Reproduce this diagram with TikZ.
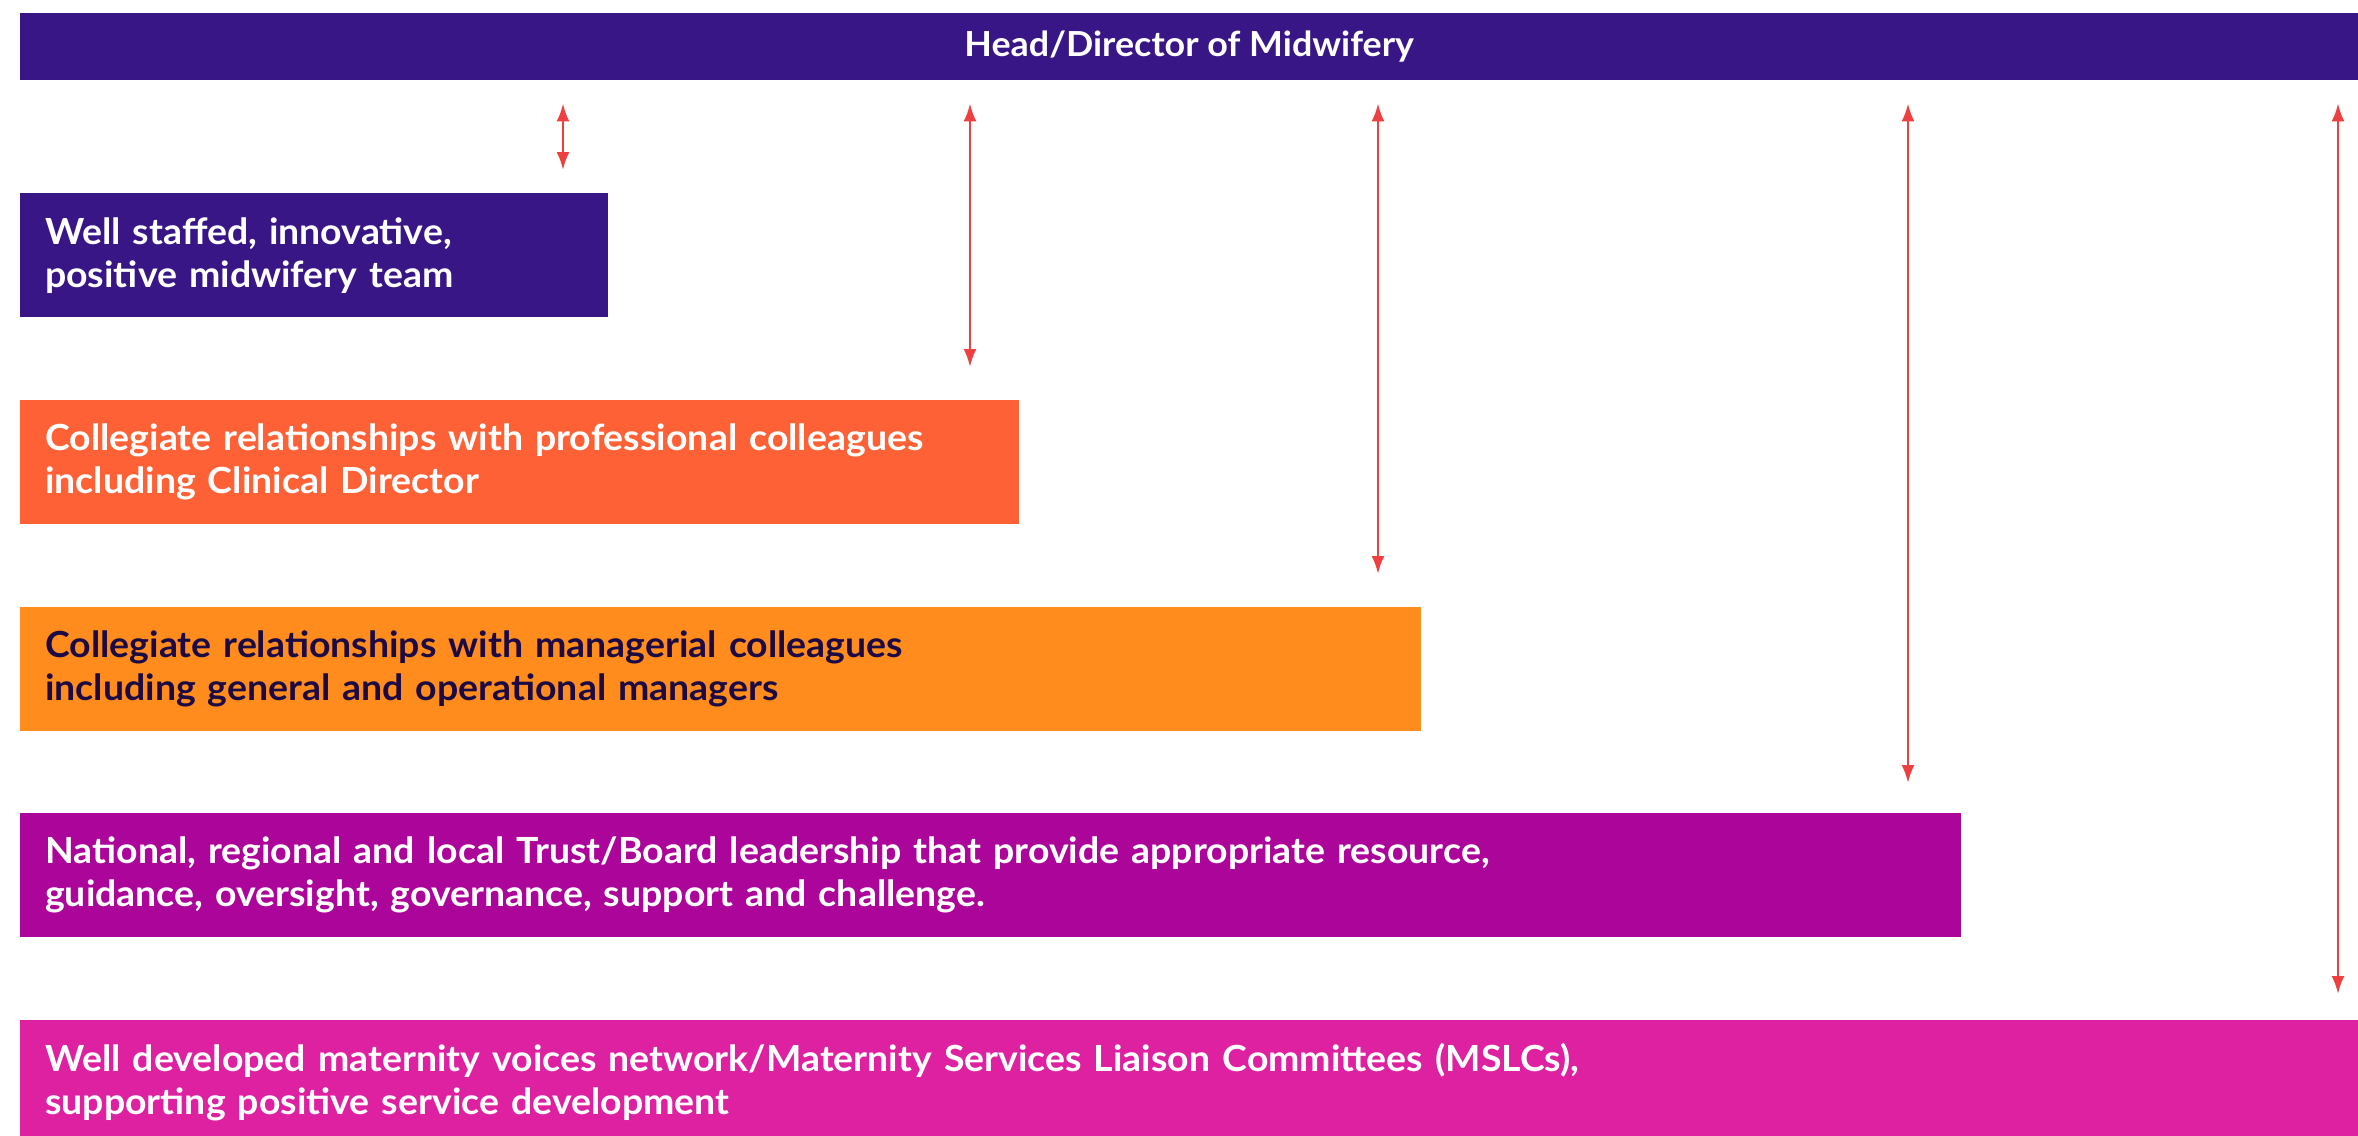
\documentclass[tikz,border=0pt]{standalone}
\usepackage{fontspec}
\setmainfont{Lato}[FakeStretch=1.04]
\usetikzlibrary{arrows.meta,positioning}
\definecolor{midindigo}{HTML}{381685}
\definecolor{midcoral}{HTML}{FF6136}
\definecolor{midamber}{HTML}{FF8C1C}
\definecolor{midplum}{HTML}{AC0599}
\definecolor{midpink}{HTML}{DE21A0}
\definecolor{midnight}{HTML}{1C0A45}
\definecolor{linkred}{HTML}{EE4040}
\tikzset{
  box/.style={anchor=north west,minimum height=124pt,inner xsep=25pt,inner ysep=0pt,
    align=left,text=white,font=\bfseries\fontsize{36}{43}\selectfont},
  link/.style={draw=linkred,line width=2.5pt,
    {Latex[length=18pt,width=13pt]}-{Latex[length=18pt,width=13pt]},shorten <=23pt}
}
\begin{document}
\begin{tikzpicture}[x=1pt,y=-1pt]
  \useasboundingbox[fill=white] (0,0) rectangle (2358,1135);
  \clip (0,0) rectangle (2358,1135);
  \node[anchor=north west,fill=midindigo,minimum width=2338pt,minimum height=67pt,inner sep=0pt,
    text=white,font=\bfseries\fontsize{34.5}{40}\selectfont] (head) at (20,13) {Head/Director of Midwifery};
  \node[box,fill=midindigo,text width=538pt] (wst) at (20,193)
    {Well staffed, innovative,\\positive midwifery team};
  \node[box,fill=midcoral,text width=949pt] (pro) at (20,400)
    {Collegiate relationships with professional colleagues\\including Clinical Director};
  \node[box,fill=midamber,text=midnight,text width=1351pt] (man) at (20,607)
    {Collegiate relationships with managerial colleagues\\including general and operational managers};
  \node[box,fill=midplum,text width=1891pt] (lead) at (20,813)
    {National, regional and local Trust/Board leadership that provide appropriate resource,\\guidance, oversight, governance, support and challenge.};
  \node[box,fill=midpink,text width=2308pt] (mvp) at (20,1020)
    {Well developed maternity voices network/Maternity Services Liaison Committees (MSLCs),\\supporting positive service development};
  % arrows: box / x / gap above the box
  \foreach \b/\x/\g in {wst/563/23,pro/970/33,man/1378/33,lead/1908/30,mvp/2338/26}{
    \coordinate (c\b) at (\x,0);
    \draw[link,shorten >=\g pt] (head.south -| c\b) -- (\b.north -| c\b);
  }
\end{tikzpicture}
\end{document}
